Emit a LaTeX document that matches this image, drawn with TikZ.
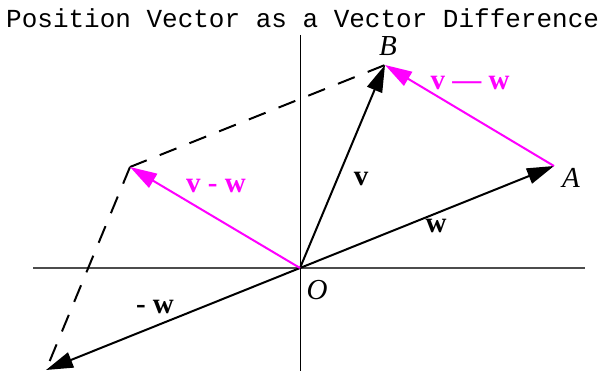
\documentclass[tikz,border=0pt]{standalone}
\usepackage{fontspec}
\setmainfont{Liberation Serif}
\newfontfamily\monofont{Liberation Mono}
\usetikzlibrary{arrows.meta}
\definecolor{vmag}{RGB}{255,0,255}
\begin{document}
\begin{tikzpicture}[x=1pt,y=-1pt,
  axis/.style={line width=1.2pt,draw=black!70},
  vaxis/.style={line width=1pt,draw=black},
  vec/.style={line width=2pt,-{Triangle[length=27pt,width=16pt]}},
  diffvec/.style={vec,draw=vmag,fill=vmag},
  dashline/.style={line width=2pt,dash pattern=on 18pt off 14pt},
  blab/.style={font=\fontsize{29}{29}\selectfont\bfseries,inner sep=0pt},
  plab/.style={font=\fontsize{29}{29}\selectfont\itshape,inner sep=0pt}]
\useasboundingbox (0,0) rectangle (608,371);
\coordinate (O) at (300,268);
\coordinate (A) at (554,166);
\coordinate (B) at (385,65);
\coordinate (C) at (130,167);
\coordinate (D) at (46,370);
\coordinate (xl) at (33,268);
\coordinate (xr) at (585,268);
\coordinate (yt) at (300,35);
\coordinate (yb) at (300,371);
\node[font=\monofont\fontsize{26}{26}\selectfont,anchor=base west,inner sep=0pt] (title) at (6,28) {Position Vector as a Vector Difference};
\draw[axis] (xl) -- (xr);
\draw[vaxis] (yt) -- (yb);
\draw[dashline] (C) -- (B);
\draw[dashline] (C) -- (D);
\draw[vec] (O) -- (A);
\draw[vec] (O) -- (B);
\draw[vec] (O) -- (D);
\draw[diffvec] (O) -- (C);
\draw[diffvec] (A) -- (B);
\node[blab,text=vmag] (l1) at (216,186) {v - w};
\node[blab,text=vmag] (l2) at (470,83) {v — w};
\node[blab] (lv) at (361,179) {v};
\node[blab] (lw) at (436,226) {w};
\node[blab] (lmw) at (155,307) {- w};
\node[plab] (nB) at (388,46) {B};
\node[plab] (nA) at (571,178) {A};
\node[plab] (nO) at (317,290) {O};
\end{tikzpicture}
\end{document}
